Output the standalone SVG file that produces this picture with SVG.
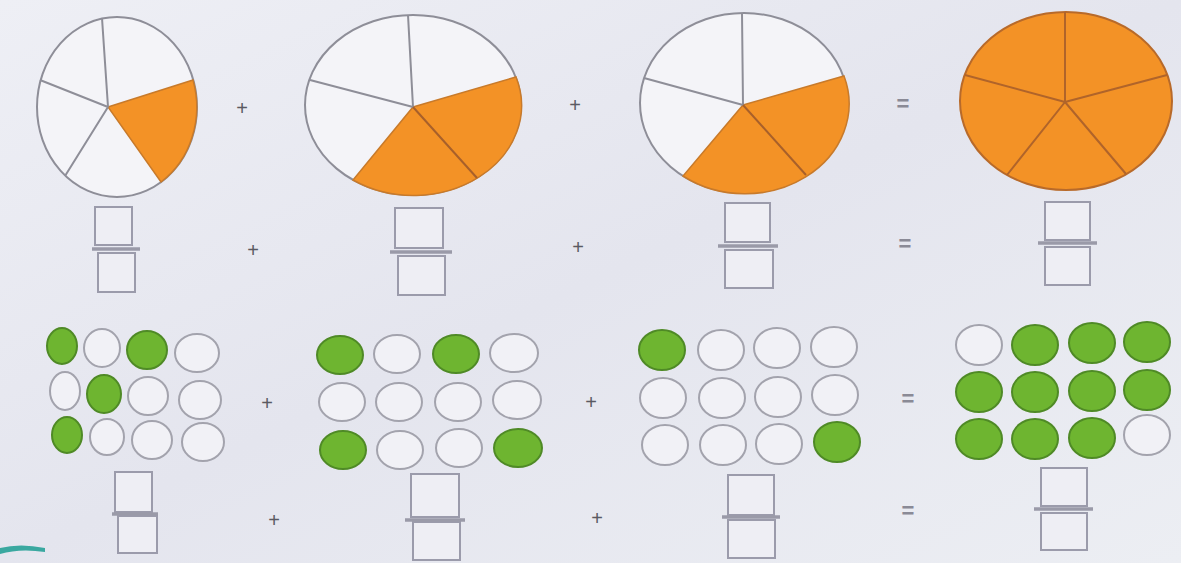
<svg xmlns="http://www.w3.org/2000/svg" width="1181" height="563" viewBox="0 0 1181 563">
<defs>
<style>
.pie{fill:#f4f4f8;stroke:#8e8e98;stroke-width:2}
.sp{stroke:#8e8e98;stroke-width:2;fill:none}
.or{fill:#f39226;stroke:#c87a2a;stroke-width:1.5}
.sp4{stroke:#b0642a;stroke-width:2;fill:none}
.g{fill:#6eb530;stroke:#4f8a26;stroke-width:2}
.o{fill:#f1f1f6;stroke:#a3a3ad;stroke-width:2}
.bx{fill:#eeeef4;stroke:#9b9bab;stroke-width:2}
.bar{stroke:#9a9aa8;stroke-width:3.5}
.op{font-family:"Liberation Sans",Arial,sans-serif;fill:#5a5a62;text-anchor:middle}
.pl{font-size:20px}
.eq{font-size:22px;font-weight:bold;fill:#8a8a96}
</style>
<linearGradient id="bg" x1="0" y1="0" x2="1" y2="1">
<stop offset="0" stop-color="#eeeff5"/>
<stop offset="0.5" stop-color="#e4e5ee"/>
<stop offset="1" stop-color="#eceef3"/>
</linearGradient>
</defs>
<rect width="1181" height="563" fill="url(#bg)"/>
<path d="M0,548 Q20,543 45,548 L45,552 Q20,548 0,554 Z" fill="#3aa8a0"/>

<g id="pie1">
<ellipse class="pie" cx="117" cy="107" rx="80" ry="90"/>
<path class="or" d="M108,107 L193,80 A80,90 0 0,1 161,182 Z"/>
<path class="sp" d="M108,107 L102,18 M108,107 L40,80 M108,107 L65,176"/>
</g>
<g id="pie2">
<ellipse class="pie" cx="413" cy="105" rx="108" ry="90"/>
<path class="or" d="M413,107 L516,77 A108,90 0 0,1 353,180 Z"/>
<path class="sp" d="M413,107 L408,15 M413,107 L310,80"/>
<path class="sp" stroke="#9a5a25" d="M413,107 L477,178" style="stroke:#a8602a"/>
</g>
<g id="pie3">
<ellipse class="pie" cx="744" cy="103" rx="104" ry="90"/>
<path class="or" d="M743,105 L844,76 A104,90 0 0,1 683,176 Z"/>
<path class="sp" d="M743,105 L742,13 M743,105 L644,78"/>
<path class="sp" d="M743,105 L806,175" style="stroke:#a8602a"/>
</g>
<g id="pie4">
<ellipse class="or" cx="1066" cy="101" rx="106" ry="89" style="stroke:#b86a2a;stroke-width:2"/>
<path class="sp4" d="M1065,102 L1065,12 M1065,102 L965,75 M1065,102 L1007,175 M1065,102 L1126,174 M1065,102 L1167,75"/>
</g>

<g id="ops">
<text class="op pl" x="242" y="115">+</text>
<text class="op pl" x="575" y="112">+</text>
<text class="op eq" x="903" y="111">=</text>
<text class="op pl" x="253" y="257">+</text>
<text class="op pl" x="578" y="254">+</text>
<text class="op eq" x="905" y="251">=</text>
<text class="op pl" x="267" y="410">+</text>
<text class="op pl" x="591" y="409">+</text>
<text class="op eq" x="908" y="406">=</text>
<text class="op pl" x="274" y="527">+</text>
<text class="op pl" x="597" y="525">+</text>
<text class="op eq" x="908" y="518">=</text>
</g>

<g id="frac1">
<rect class="bx" x="95" y="207" width="37" height="38"/>
<rect class="bx" x="98" y="253" width="37" height="39"/>
<line class="bar" x1="92" y1="249" x2="140" y2="249"/>
</g>
<g id="frac2">
<rect class="bx" x="395" y="208" width="48" height="40"/>
<rect class="bx" x="398" y="256" width="47" height="39"/>
<line class="bar" x1="390" y1="252" x2="452" y2="252"/>
</g>
<g id="frac3">
<rect class="bx" x="725" y="203" width="45" height="39"/>
<rect class="bx" x="725" y="250" width="48" height="38"/>
<line class="bar" x1="718" y1="246" x2="778" y2="246"/>
</g>
<g id="frac4">
<rect class="bx" x="1045" y="202" width="45" height="38"/>
<rect class="bx" x="1045" y="247" width="45" height="38"/>
<line class="bar" x1="1038" y1="243" x2="1097" y2="243"/>
</g>

<g id="grid1">
<ellipse class="g" cx="62" cy="346" rx="15" ry="18"/>
<ellipse class="o" cx="102" cy="348" rx="18" ry="19"/>
<ellipse class="g" cx="147" cy="350" rx="20" ry="19"/>
<ellipse class="o" cx="197" cy="353" rx="22" ry="19"/>
<ellipse class="o" cx="65" cy="391" rx="15" ry="19"/>
<ellipse class="g" cx="104" cy="394" rx="17" ry="19"/>
<ellipse class="o" cx="148" cy="396" rx="20" ry="19"/>
<ellipse class="o" cx="200" cy="400" rx="21" ry="19"/>
<ellipse class="g" cx="67" cy="435" rx="15" ry="18"/>
<ellipse class="o" cx="107" cy="437" rx="17" ry="18"/>
<ellipse class="o" cx="152" cy="440" rx="20" ry="19"/>
<ellipse class="o" cx="203" cy="442" rx="21" ry="19"/>
</g>
<g id="grid2">
<ellipse class="g" cx="340" cy="355" rx="23" ry="19"/>
<ellipse class="o" cx="397" cy="354" rx="23" ry="19"/>
<ellipse class="g" cx="456" cy="354" rx="23" ry="19"/>
<ellipse class="o" cx="514" cy="353" rx="24" ry="19"/>
<ellipse class="o" cx="342" cy="402" rx="23" ry="19"/>
<ellipse class="o" cx="399" cy="402" rx="23" ry="19"/>
<ellipse class="o" cx="458" cy="402" rx="23" ry="19"/>
<ellipse class="o" cx="517" cy="400" rx="24" ry="19"/>
<ellipse class="g" cx="343" cy="450" rx="23" ry="19"/>
<ellipse class="o" cx="400" cy="450" rx="23" ry="19"/>
<ellipse class="o" cx="459" cy="448" rx="23" ry="19"/>
<ellipse class="g" cx="518" cy="448" rx="24" ry="19"/>
</g>
<g id="grid3">
<ellipse class="g" cx="662" cy="350" rx="23" ry="20"/>
<ellipse class="o" cx="721" cy="350" rx="23" ry="20"/>
<ellipse class="o" cx="777" cy="348" rx="23" ry="20"/>
<ellipse class="o" cx="834" cy="347" rx="23" ry="20"/>
<ellipse class="o" cx="663" cy="398" rx="23" ry="20"/>
<ellipse class="o" cx="722" cy="398" rx="23" ry="20"/>
<ellipse class="o" cx="778" cy="397" rx="23" ry="20"/>
<ellipse class="o" cx="835" cy="395" rx="23" ry="20"/>
<ellipse class="o" cx="665" cy="445" rx="23" ry="20"/>
<ellipse class="o" cx="723" cy="445" rx="23" ry="20"/>
<ellipse class="o" cx="779" cy="444" rx="23" ry="20"/>
<ellipse class="g" cx="837" cy="442" rx="23" ry="20"/>
</g>
<g id="grid4">
<ellipse class="o" cx="979" cy="345" rx="23" ry="20"/>
<ellipse class="g" cx="1035" cy="345" rx="23" ry="20"/>
<ellipse class="g" cx="1092" cy="343" rx="23" ry="20"/>
<ellipse class="g" cx="1147" cy="342" rx="23" ry="20"/>
<ellipse class="g" cx="979" cy="392" rx="23" ry="20"/>
<ellipse class="g" cx="1035" cy="392" rx="23" ry="20"/>
<ellipse class="g" cx="1092" cy="391" rx="23" ry="20"/>
<ellipse class="g" cx="1147" cy="390" rx="23" ry="20"/>
<ellipse class="g" cx="979" cy="439" rx="23" ry="20"/>
<ellipse class="g" cx="1035" cy="439" rx="23" ry="20"/>
<ellipse class="g" cx="1092" cy="438" rx="23" ry="20"/>
<ellipse class="o" cx="1147" cy="435" rx="23" ry="20"/>
</g>

<g id="frac5">
<rect class="bx" x="115" y="472" width="37" height="40"/>
<rect class="bx" x="118" y="516" width="39" height="37"/>
<line class="bar" x1="112" y1="514" x2="158" y2="514"/>
</g>
<g id="frac6">
<rect class="bx" x="411" y="474" width="48" height="43"/>
<rect class="bx" x="413" y="522" width="47" height="38"/>
<line class="bar" x1="405" y1="520" x2="465" y2="520"/>
</g>
<g id="frac7">
<rect class="bx" x="728" y="475" width="46" height="40"/>
<rect class="bx" x="728" y="520" width="47" height="38"/>
<line class="bar" x1="722" y1="517" x2="780" y2="517"/>
</g>
<g id="frac8">
<rect class="bx" x="1041" y="468" width="46" height="38"/>
<rect class="bx" x="1041" y="513" width="46" height="37"/>
<line class="bar" x1="1034" y1="509" x2="1093" y2="509"/>
</g>
</svg>
